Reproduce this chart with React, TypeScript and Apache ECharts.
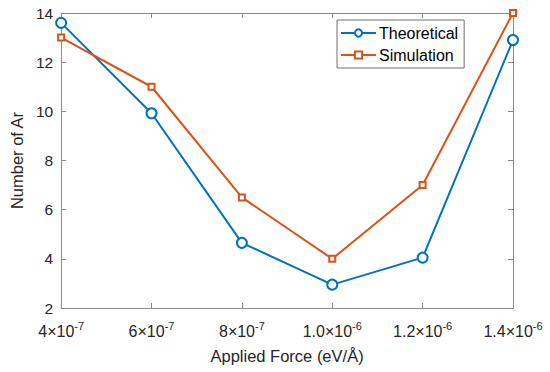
import React, { useEffect, useRef } from "react";
import * as echarts from "echarts";

const forceUnits = [4, 6, 8, 10, 12, 14]; // x in units of 1e-7 eV/Å
const theoretical = [13.6, 9.92, 4.65, 2.95, 4.05, 12.9];
const simulation = [13.0, 11.0, 6.5, 4.0, 7.0, 14.0];
const xTickMantissa: Record<number, string> = { 4: "4", 6: "6", 8: "8", 10: "1.0", 12: "1.2", 14: "1.4" };
const xTickExp: Record<number, string> = { 4: "-7", 6: "-7", 8: "-7", 10: "-6", 12: "-6", 14: "-6" };

const BLUE = "#0072BD";
const ORANGE = "#D95319";
const AXIS = "#8a8a8a";
const TEXT = "#262626";
const FONT = "Liberation Sans";

export default function App() {
  const ref = useRef<HTMLDivElement>(null);
  useEffect(() => {
    if (!ref.current) return;
    const chart = echarts.init(ref.current, undefined, { renderer: "svg" });
    const line = { show: true, lineStyle: { color: AXIS, width: 1 } };
    chart.setOption({
      animation: false,
      backgroundColor: "#ffffff",
      textStyle: { fontFamily: FONT },
      grid: { left: 54, right: 37, top: 13, bottom: 64, containLabel: false },
      legend: {
        left: 337,
        top: 20,
        orient: "vertical",
        backgroundColor: "#ffffff",
        borderColor: "#6e6e6e",
        borderWidth: 1,
        borderRadius: 0,
        padding: [5, 6, 5, 3],
        itemGap: 6,
        itemWidth: 35,
        itemHeight: 9,
        textStyle: { fontSize: 16, color: "#000", fontFamily: FONT, padding: [0, 0, 0, -2] },
        data: ["Theoretical", "Simulation"],
      },
      xAxis: [
        {
          type: "value",
          min: 4,
          max: 14,
          interval: 2,
          position: "bottom",
          axisLine: line,
          axisTick: { show: true, inside: true, length: 5, lineStyle: { color: AXIS } },
          splitLine: { show: false },
          axisLabel: {
            color: TEXT,
            fontSize: 16,
            fontFamily: FONT,
            margin: 12,
            formatter: (v: number) => `{man|${xTickMantissa[v]}×10}{sup|${xTickExp[v]}}`,
            rich: {
              man: { fontSize: 16, color: TEXT, fontFamily: FONT, lineHeight: 22, padding: [0, 0, 0, 0] },
              sup: { fontSize: 11, color: TEXT, fontFamily: FONT, verticalAlign: "top", lineHeight: 22, padding: [0, 0, 12, 0] },
            },
          },
          name: "Applied Force (eV/Å)",
          nameLocation: "middle",
          nameGap: 36,
          nameTextStyle: { fontSize: 16.5, color: TEXT, fontFamily: FONT },
        },
        {
          type: "value",
          min: 4,
          max: 14,
          interval: 2,
          position: "top",
          axisLine: line,
          axisTick: { show: true, inside: true, length: 5, lineStyle: { color: AXIS } },
          axisLabel: { show: false },
          splitLine: { show: false },
        },
      ],
      yAxis: [
        {
          type: "value",
          min: 2,
          max: 14,
          interval: 2,
          position: "left",
          axisLine: line,
          axisTick: { show: true, inside: true, length: 5, lineStyle: { color: AXIS } },
          splitLine: { show: false },
          axisLabel: { color: TEXT, fontSize: 15.5, margin: 8, fontFamily: FONT },
          name: "Number of Ar",
          nameLocation: "middle",
          nameGap: 33,
          nameRotate: 90,
          nameTextStyle: { fontSize: 16.5, color: TEXT, fontFamily: FONT },
        },
        {
          type: "value",
          min: 2,
          max: 14,
          interval: 2,
          position: "right",
          axisLine: line,
          axisTick: { show: true, inside: true, length: 5, lineStyle: { color: AXIS } },
          axisLabel: { show: false },
          splitLine: { show: false },
        },
      ],
      series: [
        {
          name: "Theoretical",
          type: "line",
          data: forceUnits.map((x, i) => [x, theoretical[i]]),
          color: BLUE,
          lineStyle: { width: 2, color: BLUE },
          symbol: "emptyCircle",
          symbolSize: 10,
          itemStyle: { color: BLUE, borderWidth: 2 },
          z: 3,
        },
        {
          name: "Simulation",
          type: "line",
          data: forceUnits.map((x, i) => [x, simulation[i]]),
          color: ORANGE,
          lineStyle: { width: 2, color: ORANGE },
          symbol: "emptyRect",
          symbolSize: 6,
          itemStyle: { color: ORANGE, borderWidth: 2 },
          z: 4,
        },
      ],
    });
    return () => chart.dispose();
  }, []);
  return <div ref={ref} style={{ width: 550, height: 372, position: "absolute", left: 0, top: 0 }} />;
}
